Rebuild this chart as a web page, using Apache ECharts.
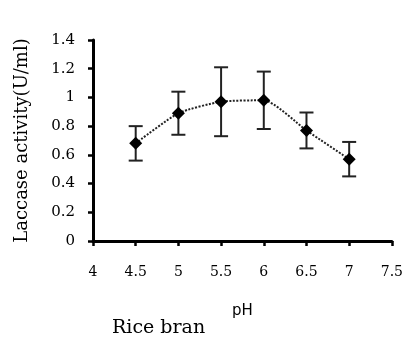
<!DOCTYPE html>
<html>
<head>
<meta charset="utf-8">
<script src="https://cdn.jsdelivr.net/npm/echarts@6/dist/echarts.min.js"></script>
<style>
  html, body { margin: 0; padding: 0; background: #fff; }
  #main { width: 406px; height: 345px; }
</style>
</head>
<body>
<div id="main"></div>
<script>
const phValues = [4.5, 5, 5.5, 6, 6.5, 7];
const activity = [0.68, 0.89, 0.97, 0.98, 0.77, 0.57];
const errors = [0.12, 0.15, 0.24, 0.2, 0.125, 0.12];

const font = '"DejaVu Serif", "Liberation Serif", serif';

const chart = echarts.init(document.getElementById('main'));

const errorData = phValues.map((x, i) => [x, activity[i] - errors[i], activity[i] + errors[i]]);

chart.setOption({
  animation: false,
  backgroundColor: '#fff',
  grid: { left: 93, right: 14, top: 40, bottom: 104 },
  xAxis: {
    type: 'value',
    min: 4,
    max: 7.5,
    interval: 0.5,
    name: 'pH',
    nameLocation: 'middle',
    nameGap: 63,
    nameTextStyle: { fontFamily: '"DejaVu Sans", sans-serif', fontSize: 15, color: '#000' },
    axisLine: { lineStyle: { color: '#000', width: 3 } },
    axisTick: { inside: false, length: 5, lineStyle: { color: '#000', width: 2.5 } },
    axisLabel: { fontFamily: font, fontSize: 14, color: '#000', margin: 24 },
    splitLine: { show: false }
  },
  yAxis: {
    type: 'value',
    min: 0,
    max: 1.4,
    interval: 0.2,
    name: 'Laccase activity(U/ml)',
    nameLocation: 'middle',
    nameRotate: 90,
    nameGap: 62,
    nameTextStyle: { fontFamily: font, fontSize: 18, color: '#000' },
    axisLine: { lineStyle: { color: '#000', width: 3 } },
    axisTick: { inside: false, length: 5, lineStyle: { color: '#000', width: 2.5 } },
    axisLabel: { fontFamily: font, fontSize: 15, color: '#000', margin: 18 },
    splitLine: { show: false }
  },
  graphic: [{
    type: 'text',
    left: 112,
    top: 319,
    style: { text: 'Rice bran', font: '19px ' + font, fill: '#000' }
  }],
  series: [
    {
      type: 'custom',
      data: errorData,
      z: 3,
      renderItem: (params, api) => {
        const x = api.value(0);
        const lo = api.coord([x, api.value(1)]);
        const hi = api.coord([x, api.value(2)]);
        const hw = 7;
        const style = { stroke: '#222', lineWidth: 2 };
        return {
          type: 'group',
          children: [
            { type: 'line', shape: { x1: lo[0], y1: lo[1], x2: hi[0], y2: hi[1] }, style },
            { type: 'line', shape: { x1: lo[0] - hw, y1: lo[1], x2: lo[0] + hw, y2: lo[1] }, style },
            { type: 'line', shape: { x1: hi[0] - hw, y1: hi[1], x2: hi[0] + hw, y2: hi[1] }, style }
          ]
        };
      }
    },
    {
      type: 'line',
      data: phValues.map((x, i) => [x, activity[i]]),
      smooth: 0.2,
      z: 4,
      symbol: 'diamond',
      symbolSize: [13, 13],
      itemStyle: { color: '#000' },
      lineStyle: { color: '#222', width: 2, type: [2, 1.5] }
    }
  ]
});
</script>
</body>
</html>
